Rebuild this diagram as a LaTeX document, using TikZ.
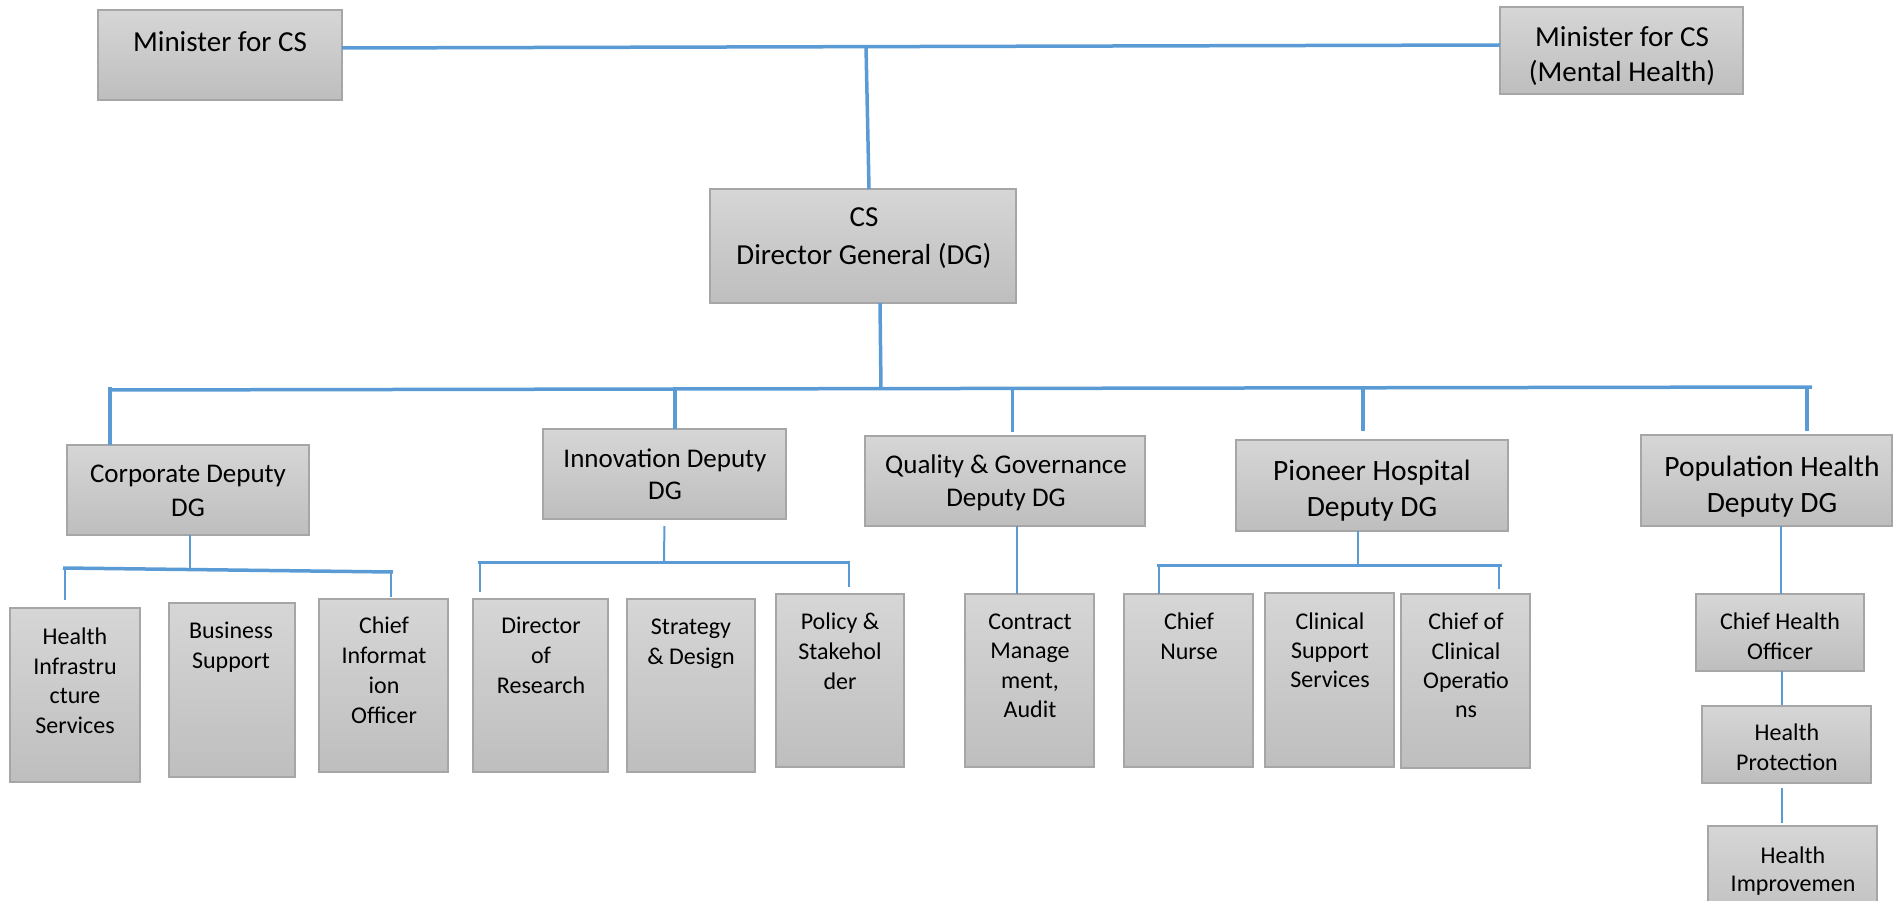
\documentclass[tikz,border=0pt]{standalone}
\usepackage{fontspec}
\setmainfont{Carlito}
\definecolor{linkblue}{RGB}{91,155,213}
\definecolor{boxedge}{RGB}{166,166,166}
\definecolor{boxtop}{RGB}{214,214,214}
\definecolor{boxbot}{RGB}{190,190,190}

\tikzset{
  unitbox/.style={draw=boxedge, line width=2pt, top color=boxtop, bottom color=boxbot,
    inner sep=0pt, outer sep=0pt, anchor=north west},
  lbl/.style={align=center, inner sep=0pt, text=black,
    execute at begin node=\strut, execute at end node=\strut},
  smalltxt/.style={lbl, font=\fontsize{24}{30}\selectfont},
  headtxt/.style={lbl, font=\fontsize{29}{36}\selectfont},
  deptxt/.style={lbl, font=\fontsize{27}{33}\selectfont},
  thicklink/.style={draw=linkblue, line width=3.5pt},
  midlink/.style={draw=linkblue, line width=3pt},
  thinlink/.style={draw=linkblue, line width=2pt},
}

% box from top-left (x1,y1) to bottom-right (x2,y2), in pixel units
\newcommand\orgbox[5]{%
  \node[unitbox, minimum width={#4-#2}, minimum height={#5-#3}] (#1) at (#2,#3) {};}

\begin{document}
\begin{tikzpicture}[x=1pt, y=-1pt]
\useasboundingbox (0,0) rectangle (1893,901);
\path[clip] (0,0) rectangle (1893,901);

% ---------- boxes ----------
\orgbox{minA}{98}{10}{342}{100}
\orgbox{minB}{1500}{7}{1743}{94}
\orgbox{cs}{710}{189}{1016}{303}

\orgbox{corp}{67}{445}{309}{535}
\orgbox{innov}{543}{429}{786}{519}
\orgbox{qg}{865}{436}{1145}{526}
\orgbox{pion}{1236}{440}{1508}{531}
\orgbox{pop}{1641}{435}{1892}{526}

\orgbox{his}{10}{608}{140}{782}
\orgbox{bs}{169}{603}{295}{777}
\orgbox{cio}{319}{599}{448}{772}
\orgbox{dor}{473}{599}{608}{772}
\orgbox{sd}{627}{599}{755}{772}
\orgbox{ps}{776}{594}{904}{767}
\orgbox{ct}{965}{594}{1094}{767}
\orgbox{cn}{1124}{594}{1253}{767}
\orgbox{css}{1265}{593}{1394}{767}
\orgbox{cco}{1401}{594}{1530}{768}
\orgbox{cho}{1696}{594}{1864}{671}
\orgbox{hp}{1702}{706}{1871}{783}
\orgbox{hi}{1708}{826}{1877}{930}

% ---------- labels ----------
\node[headtxt] (tminA) at (220,44) {Minister for CS};
\node[headtxt, font=\fontsize{29}{35}\selectfont] (tminB) at (1622,59) {Minister for CS\\(Mental Health)};
\node[headtxt, font=\fontsize{29}{38}\selectfont] (tcs) at (864,242) {CS\\Director General (DG)};

\node[deptxt, font=\fontsize{27}{34}\selectfont] (tcorp) at (188,496) {Corporate Deputy\\DG};
\node[deptxt, font=\fontsize{27}{32}\selectfont] (tinnov) at (665,479) {Innovation Deputy\\DG};
\node[deptxt] (tqg) at (1006,486) {Quality \& Governance\\Deputy DG};
\node[deptxt, font=\fontsize{29.5}{36}\selectfont] (tpion) at (1372,494) {Pioneer Hospital\\Deputy DG};
\node[deptxt, font=\fontsize{29.5}{36}\selectfont] (tpop) at (1772,490) {Population Health\\Deputy DG};

\node[smalltxt, font=\fontsize{24}{29.5}\selectfont] (this) at (75,685) {Health\\Infrastru\\cture\\Services};
\node[smalltxt] (tbs) at (231,650) {Business\\Support};
\node[smalltxt] (tcio) at (384,675) {Chief\\Informat\\ion\\Officer};
\node[smalltxt] (tdor) at (541,660) {Director\\of\\Research};
\node[smalltxt] (tsd) at (691,646) {Strategy\\\& Design};
\node[smalltxt] (tps) at (840,656) {Policy \&\\Stakehol\\der};
\node[smalltxt, font=\fontsize{24}{29.3}\selectfont] (tct) at (1030,670) {Contract\\Manage\\ment,\\Audit};
\node[smalltxt] (tcn) at (1189,641) {Chief\\Nurse};
\node[smalltxt, font=\fontsize{24}{29}\selectfont] (tcss) at (1330,655) {Clinical\\Support\\Services};
\node[smalltxt, font=\fontsize{24}{29.3}\selectfont] (tcco) at (1466,670) {Chief of\\Clinical\\Operatio\\ns};
\node[smalltxt] (tcho) at (1780,641) {Chief Health\\Officer};
\node[smalltxt] (thp) at (1787,752) {Health\\Protection};
\node[smalltxt, font=\fontsize{24}{28}\selectfont] (thi) at (1793,873) {Health\\Improvemen};

% ---------- ministers to CS ----------
\coordinate (tj) at (866,46.5);
\draw[thicklink] ([yshift=7pt]minA.east) -- ([yshift=5.5pt]minB.west);
\draw[thicklink] (tj) -- ([xshift=6pt]cs.north);

% ---------- CS to the main bus ----------
\coordinate (bj) at (881,389);
\coordinate (busL) at (108,390);
\coordinate (busR) at (1812,387);
\draw[thicklink] ([xshift=17pt]cs.south) -- (bj);
\draw[thicklink] (busL) -- (busR);

\coordinate (d1) at (110,387);
\coordinate (d2) at (675,387);
\coordinate (d3) at (1012,388);
\coordinate (d4) at (1363,387);
\coordinate (d5) at (1807,387);
\draw[thicklink] (d1) -- (d1 |- corp.north);
\draw[thicklink] (d2) -- (d2 |- innov.north);
\draw[midlink, shorten >=4pt] (d3) -- (d3 |- qg.north);
\draw[thicklink, shorten >=9pt] (d4) -- (d4 |- pion.north);
\draw[thicklink, shorten >=4pt] (d5) -- (d5 |- pop.north);

% ---------- Corporate branch ----------
\coordinate (cj) at (190,570);
\coordinate (cbL) at (63,568);
\coordinate (cbR) at (393,572);
\draw[thinlink] ([xshift=2pt]corp.south) -- (cj);
\draw[thicklink] (cbL) -- (cbR);
\draw[thinlink, shorten >=8pt] ([xshift=2pt]cbL) -- ([xshift=2pt]cbL |- his.north);
\draw[thinlink, shorten >=2pt] ([xshift=-2pt]cbR) -- ([xshift=-2pt]cbR |- cio.north);

% ---------- Innovation branch ----------
\coordinate (ij) at (664,562);
\coordinate (ibL) at (478,562);
\coordinate (ibR) at (850,562);
\draw[thinlink, shorten <=7pt] (innov.south) -- (ij);
\draw[midlink] (ibL) -- (ibR);
\draw[thinlink, shorten >=7pt] ([xshift=2pt]ibL) -- ([xshift=2pt]ibL |- dor.north);
\draw[thinlink, shorten >=7pt] ([xshift=-1pt]ibR) -- ([xshift=-1pt]ibR |- ps.north);

% ---------- Quality & Governance branch ----------
\draw[thinlink] ([xshift=12pt]qg.south) -- ([xshift=12pt]qg.south |- ct.north);

% ---------- Pioneer Hospital branch ----------
\coordinate (pj) at (1358,565);
\coordinate (pbL) at (1157,565);
\coordinate (pbR) at (1502,565);
\draw[thinlink] ([xshift=-14pt]pion.south) -- (pj);
\draw[midlink] (pbL) -- (pbR);
\draw[thinlink] ([xshift=2pt]pbL) -- ([xshift=2pt]pbL |- cn.north);
\draw[thinlink, shorten >=5pt] ([xshift=-3pt]pbR) -- ([xshift=-3pt]pbR |- cco.north);

% ---------- Population Health branch ----------
\draw[thinlink] ([xshift=14pt]pop.south) -- ([xshift=14pt]pop.south |- cho.north);
\draw[thinlink, shorten >=1pt] ([xshift=2pt]cho.south) -- ([xshift=2pt]cho.south |- hp.north);
\draw[thinlink, shorten <=5pt, shorten >=3pt] ([xshift=-4.5pt]hp.south) -- ([xshift=-4.5pt]hp.south |- hi.north);

\end{tikzpicture}
\end{document}
